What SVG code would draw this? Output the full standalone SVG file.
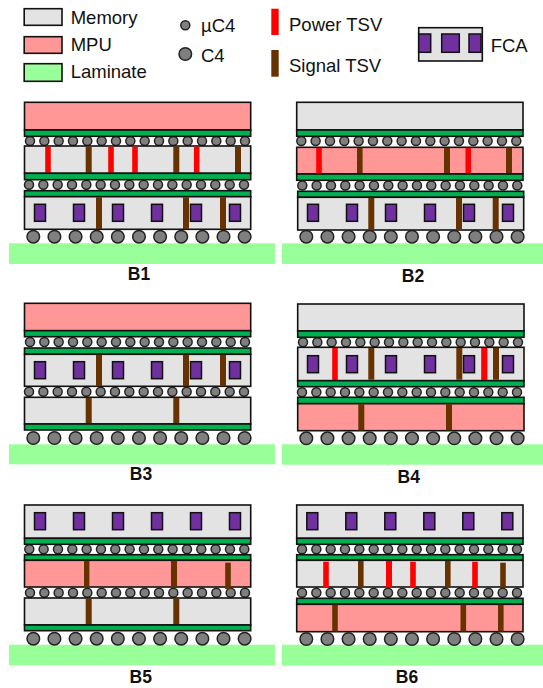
<svg xmlns="http://www.w3.org/2000/svg" width="543" height="688" viewBox="0 0 543 688">
<style>
.d{stroke:#111;stroke-width:1.6}
.m{fill:#e3e3e3}
.u{fill:#ff9797}
.g{fill:#00b050;stroke:#111;stroke-width:1.6}
.l{fill:#99ff99}
.p{fill:#ff0000}
.s{fill:#663300}
.f{fill:#7030a0;stroke:#111;stroke-width:1.5}
.b{fill:#7f7f7f;stroke:#222;stroke-width:1.5}
text{font-family:"Liberation Sans",Arial,sans-serif;fill:#111}
.t{font-size:18.5px}
.h{font-size:17.5px;font-weight:bold;text-anchor:middle}
</style>
<defs>
<g id="ur"><circle class="b" cx="0" cy="0" r="4.5"/><circle class="b" cx="14.33" cy="0" r="4.5"/><circle class="b" cx="28.67" cy="0" r="4.5"/><circle class="b" cx="43" cy="0" r="4.5"/><circle class="b" cx="57.33" cy="0" r="4.5"/><circle class="b" cx="71.67" cy="0" r="4.5"/><circle class="b" cx="86" cy="0" r="4.5"/><circle class="b" cx="100.33" cy="0" r="4.5"/><circle class="b" cx="114.67" cy="0" r="4.5"/><circle class="b" cx="129" cy="0" r="4.5"/><circle class="b" cx="143.33" cy="0" r="4.5"/><circle class="b" cx="157.67" cy="0" r="4.5"/><circle class="b" cx="172" cy="0" r="4.5"/><circle class="b" cx="186.33" cy="0" r="4.5"/><circle class="b" cx="200.67" cy="0" r="4.5"/><circle class="b" cx="215" cy="0" r="4.5"/></g>
<g id="cr"><circle class="b" cx="0" cy="0" r="6.3"/><circle class="b" cx="21.13" cy="0" r="6.3"/><circle class="b" cx="42.27" cy="0" r="6.3"/><circle class="b" cx="63.4" cy="0" r="6.3"/><circle class="b" cx="84.53" cy="0" r="6.3"/><circle class="b" cx="105.67" cy="0" r="6.3"/><circle class="b" cx="126.8" cy="0" r="6.3"/><circle class="b" cx="147.93" cy="0" r="6.3"/><circle class="b" cx="169.07" cy="0" r="6.3"/><circle class="b" cx="190.2" cy="0" r="6.3"/><circle class="b" cx="211.33" cy="0" r="6.3"/></g>
<g id="fr"><rect class="f" x="-5.5" y="0" width="11" height="17"/><rect class="f" x="33.5" y="0" width="11" height="17"/><rect class="f" x="72.5" y="0" width="11" height="17"/><rect class="f" x="111.5" y="0" width="11" height="17"/><rect class="f" x="150.5" y="0" width="11" height="17"/><rect class="f" x="189.5" y="0" width="11" height="17"/></g>
</defs>
<rect width="543" height="688" fill="#fff"/>
<g id="legend">
<rect class="d m" x="24.2" y="8.7" width="37.8" height="16.6"/>
<rect class="d u" x="24.2" y="36.7" width="37.8" height="16.6"/>
<rect class="d l" x="24.2" y="63.7" width="37.8" height="17.6"/>
<text class="t" x="70.7" y="24">Memory</text>
<text class="t" x="70.7" y="51">MPU</text>
<text class="t" x="70.7" y="78.3">Laminate</text>
<circle class="b" cx="185.3" cy="25.3" r="4.5"/>
<circle class="b" cx="185.3" cy="54" r="6.3"/>
<text class="t" x="201" y="32.3">µC4</text>
<text class="t" x="201" y="61.7">C4</text>
<rect class="p" x="271.3" y="8.7" width="7.4" height="26.3"/>
<rect class="s" x="271.3" y="50" width="7.4" height="26.7"/>
<text class="t" x="289" y="31">Power TSV</text>
<text class="t" x="289" y="72">Signal TSV</text>
<rect class="d m" x="418.7" y="27.7" width="63.6" height="33.3"/>
<rect class="f" x="418.7" y="34" width="12" height="18.3"/>
<rect class="f" x="441.7" y="34" width="17.6" height="18.3"/>
<rect class="f" x="469" y="34" width="12" height="18.3"/>
<text class="t" x="490.7" y="51.7">FCA</text>
</g>
<g id="B1">
<rect class="l" x="9" y="243.3" width="266" height="20.7"/>
<use href="#ur" x="30" y="141"/>
<use href="#ur" x="29" y="184.7"/>
<rect class="d u" x="24.5" y="102.3" width="226.2" height="27.7"/>
<rect class="g" x="24.5" y="130" width="226.2" height="6.3"/>
<rect class="d m" x="24.5" y="146" width="226.2" height="27.3"/>
<g class="p"><rect x="45.2" y="146.6" width="5.6" height="26.4"/><rect x="108.2" y="146.6" width="5.6" height="26.4"/><rect x="132.2" y="146.6" width="5.6" height="26.4"/><rect x="193.9" y="146.6" width="5.6" height="26.4"/></g>
<g class="s"><rect x="85.7" y="146.6" width="6" height="26.4"/><rect x="173.3" y="146.6" width="6" height="26.4"/><rect x="235" y="146.6" width="6" height="26.4"/></g>
<rect class="g" x="24.5" y="173.3" width="226.2" height="6.4"/>
<rect class="g" x="24.5" y="190.7" width="226.2" height="6"/>
<rect class="d m" x="24.5" y="196.7" width="226.2" height="32.6"/>
<use href="#fr" x="40" y="204.3"/>
<g class="s"><rect x="96" y="197.2" width="6" height="31.8"/><rect x="183" y="197.2" width="6" height="31.8"/><rect x="220" y="197.2" width="6" height="31.8"/></g>
<use href="#cr" x="33.3" y="236.7"/>
<text class="h" x="139" y="280">B1</text>
</g>
<g id="B2">
<rect class="l" x="282" y="243.3" width="261" height="20.7"/>
<use href="#ur" x="301.3" y="141"/>
<use href="#ur" x="302.3" y="185.5"/>
<rect class="d m" x="296.7" y="102.3" width="226.3" height="27.7"/>
<rect class="g" x="296.7" y="130" width="226.3" height="6.3"/>
<rect class="d u" x="296.7" y="147.3" width="226.3" height="26.7"/>
<g class="p"><rect x="316.2" y="147.8" width="5.6" height="26"/><rect x="465.5" y="147.8" width="5.6" height="26"/></g>
<g class="s"><rect x="357" y="147.8" width="5.6" height="26"/><rect x="444" y="147.8" width="6" height="26"/><rect x="506" y="147.8" width="6" height="26"/></g>
<rect class="g" x="296.7" y="174" width="226.3" height="6.3"/>
<rect class="g" x="297.7" y="191.3" width="226" height="6"/>
<rect class="d m" x="297.7" y="197.3" width="226" height="32.7"/>
<use href="#fr" x="313" y="204.3"/>
<g class="s"><rect x="368.3" y="197.8" width="6" height="32"/><rect x="456" y="197.8" width="6" height="32"/><rect x="492.7" y="197.8" width="6" height="32"/></g>
<use href="#cr" x="306.3" y="236.7"/>
<text class="h" x="413" y="282">B2</text>
</g>
<g id="B3">
<rect class="l" x="9" y="444.3" width="266" height="20"/>
<use href="#ur" x="30" y="342"/>
<use href="#ur" x="29" y="391.7"/>
<rect class="d u" x="24.5" y="303.3" width="226.2" height="27.4"/>
<rect class="g" x="24.5" y="330.7" width="226.2" height="6"/>
<rect class="g" x="24.5" y="348" width="226.2" height="6.3"/>
<rect class="d m" x="24.5" y="354.3" width="226.2" height="32"/>
<use href="#fr" x="40" y="361.7"/>
<g class="s"><rect x="96" y="354.8" width="6" height="31.4"/><rect x="183" y="354.8" width="6" height="31.4"/><rect x="220" y="354.8" width="6" height="31.4"/></g>
<rect class="d m" x="24.5" y="397.3" width="226.2" height="26.7"/>
<g class="s"><rect x="85.7" y="397.8" width="6" height="26"/><rect x="173.3" y="397.8" width="6" height="26"/></g>
<rect class="g" x="24.5" y="424" width="226.2" height="6"/>
<use href="#cr" x="33.3" y="438"/>
<text class="h" x="141" y="480">B3</text>
</g>
<g id="B4">
<rect class="l" x="282" y="444.3" width="261" height="20.4"/>
<use href="#ur" x="303" y="342.3"/>
<use href="#ur" x="302" y="392.3"/>
<rect class="d m" x="297.7" y="304" width="226.3" height="27"/>
<rect class="g" x="297.7" y="331" width="226.3" height="6.3"/>
<rect class="d m" x="297.7" y="347.3" width="226.3" height="33.4"/>
<use href="#fr" x="313" y="355.7"/>
<g class="p"><rect x="332.2" y="348" width="5.6" height="32.7"/><rect x="481.2" y="348" width="6.2" height="32.7"/></g>
<g class="s"><rect x="368.3" y="348" width="6" height="31.7"/><rect x="456.3" y="348" width="6" height="31.7"/><rect x="493" y="348" width="6" height="31.7"/></g>
<rect class="g" x="297.7" y="380.7" width="226.3" height="6"/>
<rect class="g" x="297.7" y="397.3" width="226.3" height="6.4"/>
<rect class="d u" x="297.7" y="403.7" width="226.3" height="27"/>
<g class="s"><rect x="358.3" y="404.2" width="6" height="26.2"/><rect x="446" y="404.2" width="6" height="26.2"/></g>
<use href="#cr" x="306.3" y="438.3"/>
<text class="h" x="408.7" y="482.7">B4</text>
</g>
<g id="B5">
<rect class="l" x="9" y="644.7" width="266" height="20.6"/>
<use href="#ur" x="29.3" y="549.3"/>
<use href="#ur" x="30" y="592.7"/>
<rect class="d m" x="24.5" y="505" width="226.2" height="33.3"/>
<use href="#fr" x="40" y="512.7"/>
<rect class="g" x="24.5" y="538.3" width="226.2" height="6"/>
<rect class="g" x="24.5" y="554.7" width="226.2" height="5.6"/>
<rect class="d u" x="24.5" y="560.3" width="226.2" height="26.7"/>
<g class="s"><rect x="84" y="560.8" width="5.4" height="26"/><rect x="171" y="560.8" width="6" height="26"/><rect x="225.2" y="562.7" width="5.6" height="26.3"/></g>
<rect class="d m" x="24.5" y="598" width="226.2" height="27"/>
<g class="s"><rect x="85.7" y="598.5" width="6" height="26.3"/><rect x="173.3" y="598.5" width="6" height="26.3"/></g>
<rect class="g" x="24.5" y="625" width="226.2" height="5.7"/>
<use href="#cr" x="33.3" y="638.7"/>
<text class="h" x="140.7" y="682.7">B5</text>
</g>
<g id="B6">
<rect class="l" x="282" y="644.7" width="261" height="21"/>
<use href="#ur" x="302" y="549.3"/>
<use href="#ur" x="302" y="592.7"/>
<rect class="d m" x="296.7" y="505" width="226.3" height="33.3"/>
<use href="#fr" x="312.3" y="512.7"/>
<rect class="g" x="296.7" y="538.3" width="226.3" height="6"/>
<rect class="g" x="296.7" y="554.7" width="226.3" height="5.6"/>
<rect class="d m" x="296.7" y="560.3" width="226.3" height="26.7"/>
<g class="p"><rect x="323.2" y="561.7" width="5.6" height="26"/><rect x="386" y="561" width="6" height="26.7"/><rect x="410.2" y="561.7" width="5.6" height="26"/><rect x="472.2" y="561.7" width="5.6" height="26"/></g>
<g class="s"><rect x="358" y="561" width="5.6" height="25.8"/><rect x="445" y="560.8" width="5.6" height="26"/><rect x="500.2" y="562.7" width="5.6" height="24.2"/></g>
<rect class="g" x="296.7" y="598.3" width="226.3" height="6"/>
<rect class="d u" x="296.7" y="604.3" width="226.3" height="27.4"/>
<g class="s"><rect x="332.2" y="604.8" width="5.6" height="26.7"/><rect x="460.5" y="604.8" width="5.6" height="26.7"/><rect x="498" y="604.8" width="5.6" height="26.7"/></g>
<use href="#cr" x="306.3" y="639"/>
<text class="h" x="407" y="682.7">B6</text>
</g>
</svg>
